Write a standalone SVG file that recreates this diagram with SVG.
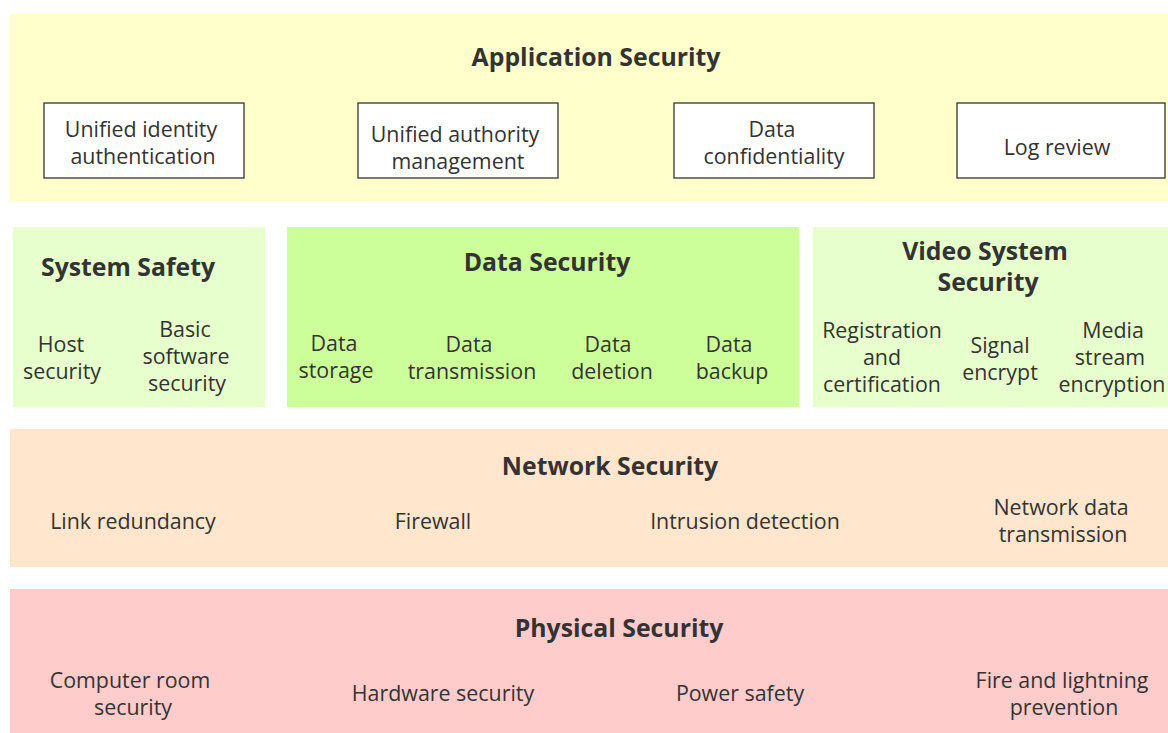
<svg xmlns="http://www.w3.org/2000/svg" width="1168" height="733" viewBox="0 0 1168 733">
<style>
text{font-family:"Open Sans","Noto Sans","DejaVu Sans",sans-serif;fill:#333;text-anchor:middle;dominant-baseline:central}
.t{font-size:24.8px;font-weight:bold}
.i{font-size:21.4px}
.box{fill:#fff;stroke:#333;stroke-width:1.3}
</style>
<rect width="1168" height="733" fill="#fff"/>
<g id="application-security">
<rect x="10" y="14" width="1158" height="187" fill="#ffffcc"/>
<text class="t" x="596" y="56">Application Security</text>
</g>
<g id="unified-identity">
<rect class="box" x="44" y="103" width="200" height="75"/>
<text class="i" x="141" y="128">Unified identity</text>
<text class="i" x="143" y="155">authentication</text>
</g>
<g id="unified-authority">
<rect class="box" x="358" y="103" width="200" height="75"/>
<text class="i" x="455" y="133">Unified authority</text>
<text class="i" x="458" y="160">management</text>
</g>
<g id="data-confidentiality">
<rect class="box" x="674" y="103" width="200" height="75"/>
<text class="i" x="772" y="128">Data</text>
<text class="i" x="774" y="155">confidentiality</text>
</g>
<g id="log-review">
<rect class="box" x="957" y="103" width="208" height="75"/>
<text class="i" x="1057" y="146">Log review</text>
</g>
<g id="system-safety">
<rect x="13" y="227" width="252" height="180" fill="#e6ffcc"/>
<text class="t" x="128" y="266">System Safety</text>
<text class="i" x="61" y="343">Host</text>
<text class="i" x="62" y="370">security</text>
<text class="i" x="185" y="328">Basic</text>
<text class="i" x="186" y="355">software</text>
<text class="i" x="187" y="382">security</text>
</g>
<g id="data-security">
<rect x="287" y="227" width="512" height="180" fill="#ccff99"/>
<text class="t" x="547" y="261">Data Security</text>
<text class="i" x="334" y="342">Data</text>
<text class="i" x="336" y="369">storage</text>
<text class="i" x="469" y="343">Data</text>
<text class="i" x="472" y="370">transmission</text>
<text class="i" x="608" y="343">Data</text>
<text class="i" x="612" y="370">deletion</text>
<text class="i" x="729" y="343">Data</text>
<text class="i" x="732" y="370">backup</text>
</g>
<g id="video-system-security">
<rect x="813" y="227" width="355" height="180" fill="#e6ffcc"/>
<text class="t" x="985" y="250">Video System</text>
<text class="t" x="988" y="281">Security</text>
<text class="i" x="882" y="329">Registration</text>
<text class="i" x="882" y="356">and</text>
<text class="i" x="882" y="383">certification</text>
<text class="i" x="1000" y="344">Signal</text>
<text class="i" x="1000" y="371">encrypt</text>
<text class="i" x="1113" y="329">Media</text>
<text class="i" x="1110" y="356">stream</text>
<text class="i" x="1112" y="383">encryption</text>
</g>
<g id="network-security">
<rect x="10" y="429" width="1158" height="138" fill="#ffe6cc"/>
<text class="t" x="610" y="465">Network Security</text>
<text class="i" x="133" y="520">Link redundancy</text>
<text class="i" x="433" y="520">Firewall</text>
<text class="i" x="745" y="520">Intrusion detection</text>
<text class="i" x="1061" y="506">Network data</text>
<text class="i" x="1063" y="533">transmission</text>
</g>
<g id="physical-security">
<rect x="10" y="589" width="1158" height="144" fill="#ffcccc"/>
<text class="t" x="619" y="627">Physical Security</text>
<text class="i" x="130" y="679">Computer room</text>
<text class="i" x="133" y="706">security</text>
<text class="i" x="443" y="692">Hardware security</text>
<text class="i" x="740" y="692">Power safety</text>
<text class="i" x="1062" y="679">Fire and lightning</text>
<text class="i" x="1064" y="706">prevention</text>
</g>
<g id="connectors"></g>
</svg>
